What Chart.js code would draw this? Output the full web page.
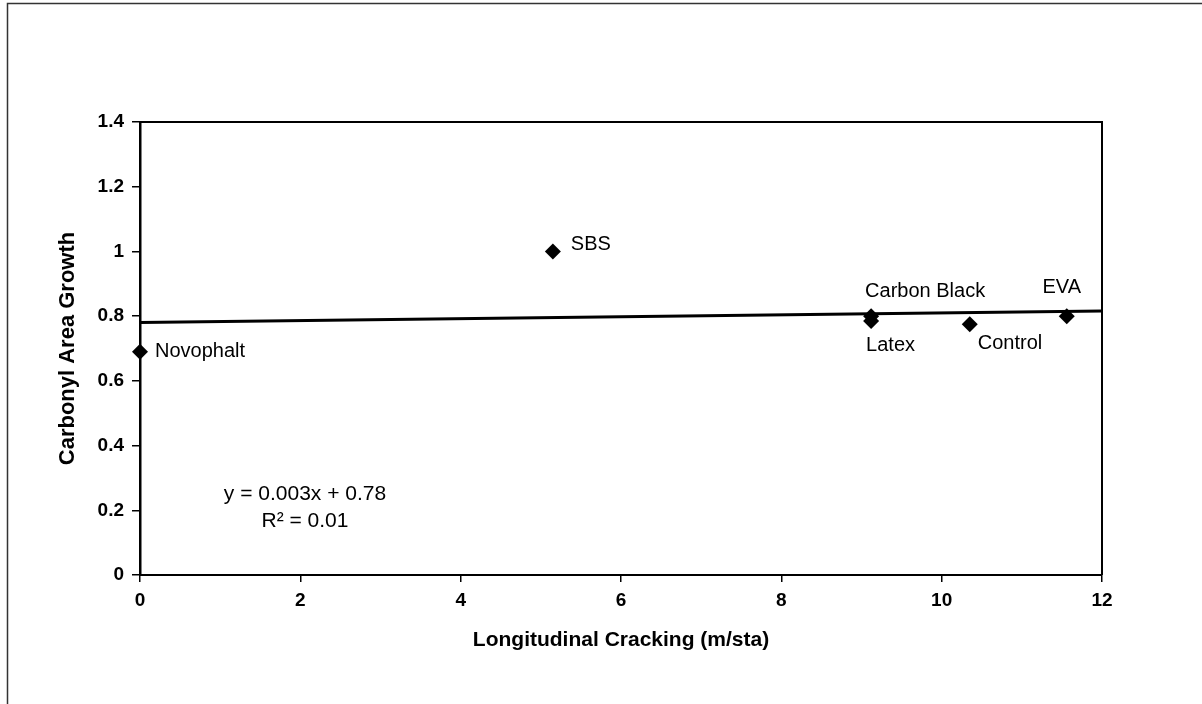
<!DOCTYPE html>
<html>
<head>
<meta charset="utf-8">
<script src="https://cdn.jsdelivr.net/npm/chart.js@4.4.1/dist/chart.umd.min.js"></script>
<style>
  html, body { margin: 0; padding: 0; background: #fff; }
  #wrap { width: 1202px; height: 704px; }
</style>
</head>
<body>
<div id="wrap"><canvas id="grafico" width="1202" height="704"></canvas></div>
<script>
// dados
const binders = ["Novophalt", "SBS", "Carbon Black", "Latex", "Control", "EVA"];
const cracking = [0, 5.15, 9.12, 9.12, 10.35, 11.56];
const carbonyl = [0.69, 1.0, 0.80, 0.785, 0.775, 0.80];
const xTicks = [0, 2, 4, 6, 8, 10, 12];
const yTicks = [0, 0.2, 0.4, 0.6, 0.8, 1, 1.2, 1.4];
// linha de tendencia
const slope = 0.003;
const intercept = 0.78;
const equation = ["y = 0.003x + 0.78", "R² = 0.01"];

// deslocamento dos rotulos em px (so estilo)
const labelOffsets = [
  [15, 0, "left"],
  [18, -7, "left"],
  [-6, -25, "left"],
  [-5, 24, "left"],
  [8, 19, "left"],
  [-5, -29, "center"],
];

const FONT = "'Liberation Sans', Arial, sans-serif";

const trend = [
  { x: xTicks[0], y: intercept + slope * xTicks[0] },
  { x: xTicks[xTicks.length - 1], y: intercept + slope * xTicks[xTicks.length - 1] },
];

const pontos = cracking.map((x, i) => ({ x: x, y: carbonyl[i] }));

const extras = {
  id: "extras",
  beforeDraw(chart) {
    const ctx = chart.ctx;
    ctx.save();
    // moldura externa
    ctx.strokeStyle = "#333";
    ctx.lineWidth = 1.5;
    ctx.beginPath();
    ctx.moveTo(7.5, 704);
    ctx.lineTo(7.5, 3.5);
    ctx.lineTo(1202, 3.5);
    ctx.stroke();
    ctx.restore();
  },
  afterDraw(chart) {
    const ctx = chart.ctx;
    const a = chart.chartArea;
    const xs = chart.scales.x;
    const ys = chart.scales.y;
    ctx.save();
    // borda de cima e direita
    ctx.strokeStyle = "#000";
    ctx.lineWidth = 2;
    ctx.beginPath();
    ctx.moveTo(a.left, a.top);
    ctx.lineTo(a.right, a.top);
    ctx.lineTo(a.right, a.bottom);
    ctx.stroke();

    // rotulos dos pontos
    ctx.fillStyle = "#000";
    ctx.font = "20px " + FONT;
    ctx.textBaseline = "middle";
    binders.forEach((nome, i) => {
      const px = xs.getPixelForValue(cracking[i]);
      const py = ys.getPixelForValue(carbonyl[i]);
      const off = labelOffsets[i];
      ctx.textAlign = off[2];
      ctx.fillText(nome, px + off[0], py + off[1]);
    });

    // equacao
    ctx.font = "21px " + FONT;
    ctx.textAlign = "center";
    ctx.fillText(equation[0], 305, 494);
    ctx.fillText(equation[1], 305, 521);
    ctx.restore();
  },
};

new Chart(document.getElementById("grafico"), {
  type: "scatter",
  data: {
    datasets: [
      {
        label: "Trend",
        type: "line",
        data: trend,
        borderColor: "#000",
        borderWidth: 3,
        pointRadius: 0,
        fill: false,
        order: 2,
      },
      {
        label: "Binders",
        data: pontos,
        pointStyle: "rectRot",
        pointRadius: 8,
        backgroundColor: "#000",
        borderColor: "#000",
        borderWidth: 0,
        clip: false,
        order: 1,
      },
    ],
  },
  plugins: [extras],
  options: {
    responsive: false,
    animation: false,
    events: [],
    layout: {
      padding: { left: 0, top: 122, right: 100, bottom: 0 },
    },
    plugins: {
      legend: { display: false },
      tooltip: { enabled: false },
    },
    scales: {
      x: {
        type: "linear",
        min: 0,
        max: 12,
        afterFit(scale) { scale.height = 129; },
        afterBuildTicks(scale) { scale.ticks = xTicks.map(v => ({ value: v })); },
        border: { display: true, color: "#000", width: 2 },
        grid: { display: true, drawOnChartArea: false, drawTicks: true, tickLength: 7, color: "#000", lineWidth: 1.5 },
        ticks: {
          color: "#000",
          padding: 7,
          maxRotation: 0,
          autoSkip: false,
          callback: v => String(v),
          font: { family: FONT, size: 19, weight: "bold" },
        },
        title: {
          display: true,
          text: "Longitudinal Cracking (m/sta)",
          color: "#000",
          font: { family: FONT, size: 21, weight: "bold" },
          padding: { top: 0, bottom: 51 },
        },
      },
      y: {
        type: "linear",
        min: 0,
        max: 1.4,
        afterFit(scale) { scale.width = 140; },
        afterBuildTicks(scale) { scale.ticks = yTicks.map(v => ({ value: v })); },
        border: { display: true, color: "#000", width: 2.5 },
        grid: { display: true, drawOnChartArea: false, drawTicks: true, tickLength: 8, color: "#000", lineWidth: 1.5 },
        ticks: {
          color: "#000",
          padding: 8,
          autoSkip: false,
          callback: v => String(v),
          font: { family: FONT, size: 19, weight: "bold" },
        },
        title: {
          display: true,
          text: "Carbonyl Area Growth",
          color: "#000",
          font: { family: FONT, size: 22, weight: "bold" },
          padding: { top: 55, bottom: 0 },
        },
      },
    },
  },
});
</script>
</body>
</html>
